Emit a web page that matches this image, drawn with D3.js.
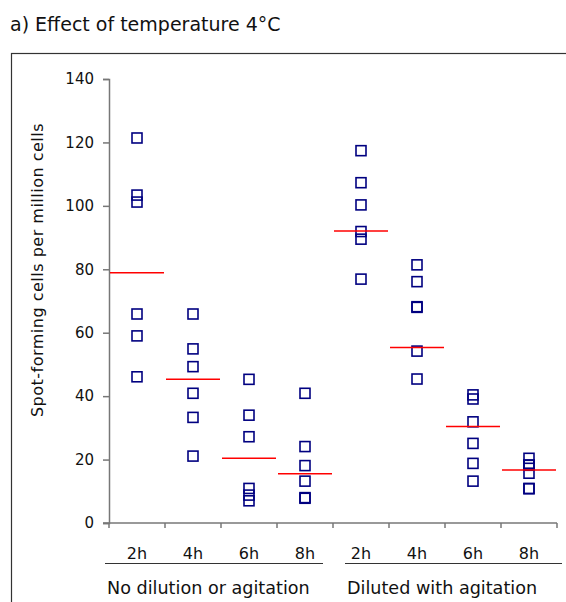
<!DOCTYPE html>
<html>
<head>
<meta charset="utf-8">
<script src="https://cdn.jsdelivr.net/npm/d3@7"></script>
<style>
  body { margin: 0; background: #fff; }
  svg text { font-family: "DejaVu Sans", sans-serif; fill: #111; }
</style>
</head>
<body>
<div id="chart"></div>
<script>
// categories and values
var timeLabels = ["2h", "4h", "6h", "8h", "2h", "4h", "6h", "8h"];
var groupLabels = ["No dilution or agitation", "Diluted with agitation"];
var yTicks = [0, 20, 40, 60, 80, 100, 120, 140];

var spotValues = [
  [121.4, 103.4, 101.2, 65.9, 59.0, 46.1],
  [65.9, 54.9, 49.3, 40.9, 33.3, 21.1],
  [45.3, 34.0, 27.2, 10.9, 8.8, 7.0],
  [40.9, 24.1, 18.1, 13.2, 8.0, 7.8],
  [117.4, 107.3, 100.3, 91.9, 89.5, 76.9],
  [81.4, 76.1, 68.2, 68.0, 54.2, 45.4],
  [40.4, 39.1, 31.9, 25.1, 18.8, 13.2],
  [20.4, 18.3, 18.2, 15.7, 10.9, 10.8]
];
var meanValues = [78.9, 45.3, 20.4, 15.5, 92.1, 55.3, 30.4, 16.7];

var W = 566, H = 602;
var margin = {top: 79, left: 109, right: 9, bottom: 79};

var svg = d3.select("#chart").append("svg")
  .attr("width", W)
  .attr("height", H);

// title
svg.append("text")
  .attr("x", 10).attr("y", 31)
  .style("font-size", "19px")
  .text("a) Effect of temperature 4°C");

// frame around the chart
svg.append("rect")
  .attr("x", 11.5).attr("y", 53.5)
  .attr("width", W).attr("height", H)
  .attr("fill", "none")
  .attr("stroke", "#333")
  .attr("stroke-width", 1.2);

var cats = d3.range(timeLabels.length);

var x = d3.scaleBand()
  .domain(cats)
  .range([margin.left, W - margin.right])
  .padding(0);

var y = d3.scaleLinear()
  .domain([0, 140])
  .range([H - margin.bottom, margin.top]);

// y axis
var gy = svg.append("g")
  .attr("transform", "translate(" + margin.left + ",0)")
  .call(d3.axisLeft(y).tickValues(yTicks).tickSize(6).tickPadding(9));
gy.selectAll("path, line").attr("stroke", "#777").attr("stroke-width", 1.5);
gy.selectAll("text").style("font-size", "15px").attr("fill", "#111")
  .style("font-family", "DejaVu Sans, sans-serif");

// x axis: ticks on the band boundaries
var gx = svg.append("g")
  .attr("transform", "translate(0," + y(0) + ")");
gx.append("line")
  .attr("x1", margin.left - 6).attr("x2", W - margin.right)
  .attr("stroke", "#777").attr("stroke-width", 1.5);
gx.selectAll(".bt")
  .data(d3.range(timeLabels.length + 1))
  .enter().append("line")
  .attr("x1", function(i) { return i < timeLabels.length ? x(i) : x(i - 1) + x.bandwidth(); })
  .attr("x2", function(i) { return i < timeLabels.length ? x(i) : x(i - 1) + x.bandwidth(); })
  .attr("y1", 0).attr("y2", 5)
  .attr("stroke", "#777").attr("stroke-width", 1.5);

// time labels
svg.selectAll(".tl")
  .data(cats)
  .enter().append("text")
  .attr("x", function(i) { return x(i) + x.bandwidth() / 2; })
  .attr("y", 559)
  .attr("text-anchor", "middle")
  .style("font-size", "16px")
  .text(function(i) { return timeLabels[i]; });

// group separators and labels
var groupSpans = [[105, 323], [345, 562]];
groupLabels.forEach(function(lbl, g) {
  svg.append("line")
    .attr("x1", groupSpans[g][0]).attr("x2", groupSpans[g][1])
    .attr("y1", 563.5).attr("y2", 563.5)
    .attr("stroke", "#333").attr("stroke-width", 1.2);
  svg.append("text")
    .attr("x", groupSpans[g][0] + 2)
    .attr("y", 594)
    .style("font-size", "17.6px")
    .text(lbl);
});

// y axis title
svg.append("text")
  .attr("transform", "translate(43," + 270 + ") rotate(-90)")
  .attr("text-anchor", "middle")
  .style("font-size", "16px")
  .style("letter-spacing", "0.5px")
  .text("Spot-forming cells per million cells");

// points
var pts = [];
spotValues.forEach(function(vals, i) {
  vals.forEach(function(v) { pts.push({c: i, v: v}); });
});
var sq = 10;
svg.append("g").selectAll("rect")
  .data(pts)
  .enter().append("rect")
  .attr("x", function(d) { return x(d.c) + x.bandwidth() / 2 - sq / 2; })
  .attr("y", function(d) { return y(d.v) - sq / 2; })
  .attr("width", sq).attr("height", sq)
  .attr("fill", "none")
  .attr("stroke", "#000080")
  .attr("stroke-width", 1.6);

// mean lines
svg.append("g").selectAll("line")
  .data(meanValues)
  .enter().append("line")
  .attr("x1", function(d, i) { return x(i) + 1; })
  .attr("x2", function(d, i) { return x(i) + x.bandwidth() - 1; })
  .attr("y1", function(d) { return y(d); })
  .attr("y2", function(d) { return y(d); })
  .attr("stroke", "#ff0000")
  .attr("stroke-width", 1.5);
</script>
</body>
</html>
